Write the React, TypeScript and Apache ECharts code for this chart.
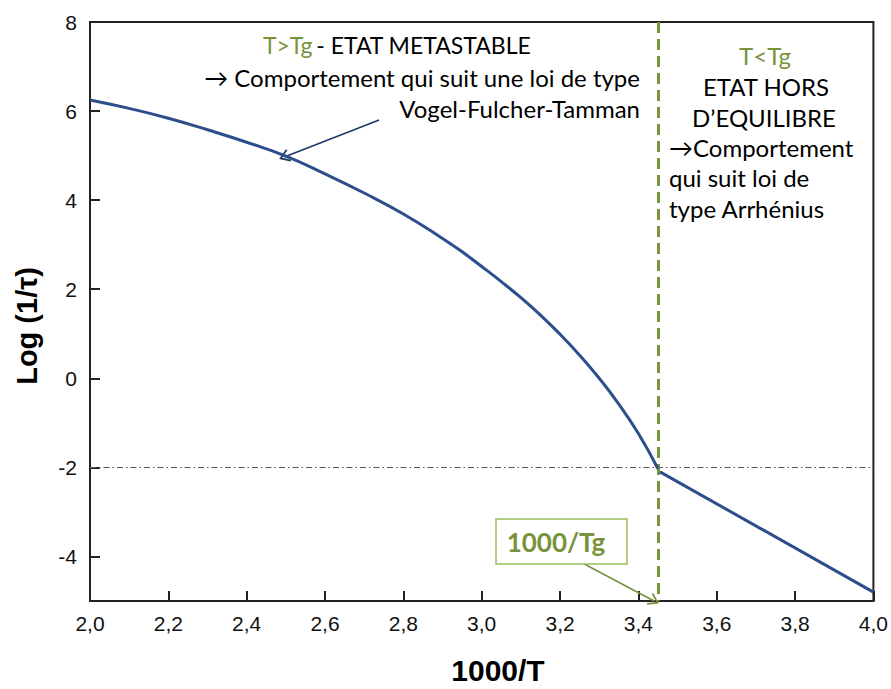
import React, { useEffect, useRef } from "react";
import * as echarts from "echarts";

const vftX = [2.0, 2.1, 2.2, 2.3, 2.4, 2.5, 2.6, 2.7, 2.8, 2.9, 2.95, 3.0, 3.05, 3.1, 3.15, 3.2, 3.25, 3.3, 3.35, 3.4, 3.45];
const vftY = [6.25, 6.06, 5.84, 5.58, 5.3, 4.99, 4.59, 4.16, 3.69, 3.14, 2.84, 2.51, 2.17, 1.81, 1.42, 0.99, 0.52, 0.0, -0.58, -1.24, -2.03];
const arrX = [3.455, 4.0];
const arrY = [-2.1, -4.8];
const yTicks = [-4, -2, 0, 2, 4, 6, 8];
const tgX = 3.45;
const refY = -2;

const GREEN = "#77933C";
const BLUE = "#2C4F8C";
const FONT = "Lato";
const FS = 24;
const CHEVRON = "path://M5,0 L10,8 L9,9.2 L5,2.6 L1,9.2 L0,8 Z";

export default function App() {
  const ref = useRef<HTMLDivElement>(null);
  useEffect(() => {
    document.body.style.margin = "0";
    const chart = echarts.init(ref.current!, undefined, { renderer: "svg" });
    const vft = vftX.map((x, i) => [x, vftY[i]]);
    const arr = arrX.map((x, i) => [x, arrY[i]]);
    const txt = (text: string, x: number, y: number, align: string, fill = "#000") => ({
      type: "text",
      x,
      y,
      style: { text, align, verticalAlign: "middle", fill, fontSize: FS, fontFamily: FONT },
    });
    chart.setOption({
      animation: false,
      backgroundColor: "#fff",
      grid: {
        left: 90,
        top: 22,
        right: 15,
        bottom: 88,
        show: true,
        borderColor: "#222",
        borderWidth: 2,
        backgroundColor: "transparent",
      },
      xAxis: {
        type: "value",
        min: 2,
        max: 4,
        interval: 0.2,
        splitLine: { show: false },
        axisLine: { onZero: false, lineStyle: { color: "#222", width: 2 } },
        axisTick: { inside: true, length: 10, lineStyle: { color: "#222", width: 2 } },
        axisLabel: {
          margin: 12,
          color: "#111",
          fontSize: 21,
          fontFamily: "Liberation Sans",
          formatter: (v: number) => v.toFixed(1).replace(".", ","),
        },
      },
      yAxis: {
        type: "value",
        min: -5,
        max: 8,
        splitLine: { show: false },
        axisLine: { onZero: false, lineStyle: { color: "#222", width: 2 } },
        axisTick: {
          inside: true,
          length: 10,
          customValues: yTicks,
          lineStyle: { color: "#222", width: 2 },
        },
        axisLabel: {
          margin: 13,
          color: "#111",
          fontSize: 21,
          fontFamily: "Liberation Sans",
          customValues: yTicks,
          formatter: (v: number) => String(v),
        },
      },
      series: [
        {
          type: "line",
          data: vft,
          smooth: 0.5,
          showSymbol: false,
          lineStyle: { color: BLUE, width: 3 },
          z: 5,
          markLine: {
            silent: true,
            symbol: ["none", "none"],
            label: { show: false },
            animation: false,
            data: [
              [
                { coord: [2, refY], lineStyle: { color: "#555", width: 1.2, type: [6, 3, 1.5, 3] } },
                { coord: [4, refY] },
              ],
              [
                { coord: [tgX, 8], lineStyle: { color: GREEN, width: 3, type: [11, 6] } },
                { coord: [tgX, -5] },
              ],
              [
                { coord: [2.738, 5.8], lineStyle: { color: "#1F3A66", width: 1.6, type: "solid" } },
                { coord: [2.496, 4.97], symbol: CHEVRON, symbolSize: [13, 11] },
              ],
              [
                { coord: [3.262, -4.17], lineStyle: { color: GREEN, width: 1.6, type: "solid" } },
                { coord: [3.44, -5.0], symbol: CHEVRON, symbolSize: [13, 11] },
              ],
            ],
          },
        },
        {
          type: "line",
          data: arr,
          showSymbol: false,
          lineStyle: { color: BLUE, width: 3 },
          z: 5,
        },
      ],
      graphic: [
        {
          type: "text",
          x: 397,
          y: 45,
          style: {
            text: "{g|T>Tg} {k|- ETAT METASTABLE}",
            align: "center",
            verticalAlign: "middle",
            rich: {
              g: { fill: GREEN, fontSize: 23, fontFamily: FONT },
              k: { fill: "#000", fontSize: 23, fontFamily: FONT },
            },
          },
        },
        txt("→ Comportement qui suit une loi de type", 640, 77, "right"),
        txt("Vogel-Fulcher-Tamman", 640, 108, "right"),
        txt("T<Tg", 765, 55, "center", GREEN),
        txt("ETAT HORS", 766, 86, "center"),
        txt("D’EQUILIBRE", 764, 117, "center"),
        txt("→Comportement", 669, 147, "left"),
        txt("qui suit loi de", 669, 177, "left"),
        txt("type Arrhénius", 669, 208, "left"),
        {
          type: "rect",
          shape: { x: 496, y: 519, width: 131, height: 45 },
          style: { fill: "#fff", stroke: "#9BBB59", lineWidth: 1.5 },
          z: 10,
        },
        {
          type: "text",
          x: 556,
          y: 542,
          z: 11,
          style: {
            text: "1000/Tg",
            align: "center",
            verticalAlign: "middle",
            fill: GREEN,
            fontSize: 26,
            fontWeight: "bold",
            fontFamily: FONT,
          },
        },
        {
          type: "text",
          x: 498,
          y: 670,
          style: {
            text: "1000/T",
            align: "center",
            verticalAlign: "middle",
            fill: "#000",
            fontSize: 30,
            fontWeight: "bold",
            fontFamily: "Liberation Sans",
          },
        },
        {
          type: "text",
          x: 27,
          y: 326,
          rotation: Math.PI / 2,
          style: {
            text: "Log (1/τ)",
            align: "center",
            verticalAlign: "middle",
            fill: "#000",
            fontSize: 29,
            fontWeight: "bold",
            fontFamily: "Liberation Sans",
          },
        },
      ],
    });
    return () => chart.dispose();
  }, []);
  return <div ref={ref} style={{ width: 891, height: 689 }} />;
}
